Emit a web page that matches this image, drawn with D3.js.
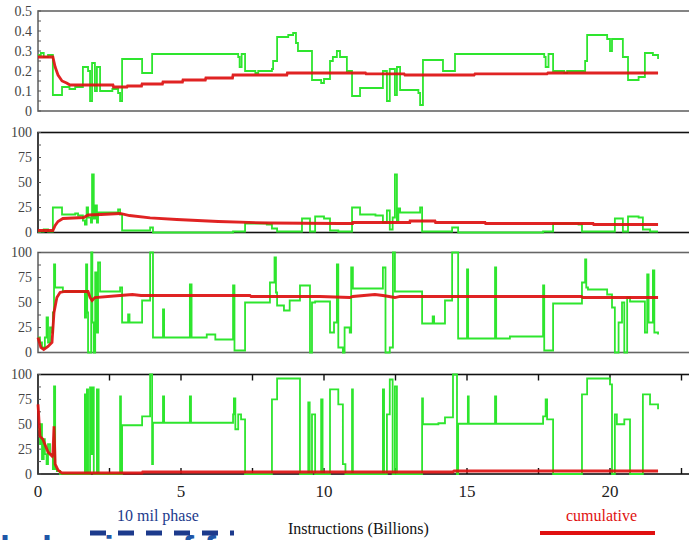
<!DOCTYPE html>
<html>
<head>
<meta charset="utf-8">
<style>
  body { margin: 0; background: #fff; }
  svg { display: block; }
</style>
</head>
<body>
<svg id="chart" width="689" height="540"></svg>
<script src="https://d3js.org/d3.v7.min.js"></script>
<script>
const WIDTH = 689;
const HEIGHT = 540;

// x ticks (billions of instructions)
const xTickLabels = [0, 5, 10, 15, 20];
const xMinorTicks = [2.5, 5, 7.5, 10, 12.5, 15, 17.5, 20, 22.5];
const ticksTop = [0, 0.1, 0.2, 0.3, 0.4, 0.5];
const ticksPct = [0, 25, 50, 75, 100];

// panel 1 : 10 mil phase (green) and cumulative (red)
const p1Phase = [[0,0.28],[0.1,0.29],[0.2,0.27],[0.35,0.28],[0.52,0.08],[0.84,0.12],[1.1,0.11],[1.3,0.12],[1.57,0.22],[1.75,0.2],[1.82,0.05],[1.89,0.24],[1.99,0.1],[2.06,0.22],[2.17,0.1],[2.6,0.11],[2.8,0.09],[2.87,0.05],[2.94,0.26],[3.64,0.19],[3.99,0.285],[7.0,0.27],[7.05,0.22],[7.12,0.285],[7.24,0.2],[7.6,0.19],[7.7,0.2],[8.18,0.21],[8.22,0.25],[8.36,0.37],[8.75,0.38],[8.92,0.39],[9.02,0.34],[9.09,0.3],[9.58,0.155],[9.9,0.14],[10.0,0.16],[10.21,0.25],[10.31,0.27],[10.45,0.3],[10.56,0.27],[10.8,0.2],[10.98,0.075],[11.26,0.115],[12.06,0.2],[12.2,0.05],[12.3,0.21],[12.48,0.08],[12.55,0.22],[12.66,0.105],[13.3,0.09],[13.36,0.03],[13.46,0.255],[14.16,0.2],[14.58,0.285],[17.7,0.27],[17.75,0.22],[17.85,0.285],[18.01,0.2],[18.4,0.19],[18.5,0.2],[19.13,0.25],[19.2,0.38],[19.9,0.36],[20.0,0.3],[20.07,0.36],[20.45,0.27],[20.63,0.155],[21.0,0.17],[21.22,0.29],[21.5,0.28],[21.68,0.26]];
const p1Cum = [[0,0.27],[0.52,0.27],[0.6,0.22],[0.7,0.18],[0.84,0.15],[1.0,0.14],[1.12,0.13],[2.62,0.13],[2.64,0.12],[3.11,0.12],[3.13,0.125],[3.62,0.125],[3.64,0.135],[4.35,0.135],[4.37,0.145],[5.05,0.145],[5.07,0.155],[5.85,0.155],[5.87,0.165],[6.8,0.165],[6.82,0.18],[8.7,0.18],[8.72,0.19],[11.45,0.19],[11.47,0.186],[12.8,0.186],[12.83,0.18],[15.25,0.18],[15.28,0.186],[17.8,0.186],[17.83,0.19],[21.68,0.19]];

// panel 2
const p2Phase = [[0,1],[0.2,3],[0.35,1],[0.52,25],[0.84,18],[1.3,19],[1.4,17],[1.57,12],[1.64,8],[1.7,25],[1.75,15],[1.85,10],[1.89,58],[1.95,14],[2.0,27],[2.06,10],[2.1,20],[2.8,23],[2.87,18],[2.94,2],[3.92,5],[4.02,0],[6.82,1],[7.24,9],[8.0,8],[8.18,4],[8.36,1],[9.23,14],[9.51,1],[9.69,16],[10.0,14],[10.21,2],[10.5,1],[10.98,25],[11.26,18],[11.8,17],[12.06,10],[12.2,22],[12.3,3],[12.4,15],[12.48,58],[12.55,12],[12.6,24],[12.66,20],[13.36,25],[13.43,1],[14.48,5],[14.69,0],[17.66,1],[18.01,9],[18.9,8],[19.02,1],[20.17,14],[20.45,1],[20.63,16],[21.0,15],[21.15,3],[21.4,1],[21.68,1]];
const p2Cum = [[0,2],[0.52,2],[0.6,7],[0.7,11],[0.87,14],[1.6,15],[1.75,17.5],[2.2,18],[2.87,19],[3.2,17],[3.92,14.7],[4.85,13],[6.3,11],[8.1,9.5],[10.56,9],[11.0,9],[11.01,10],[13.0,10],[13.01,11.5],[13.88,11.5],[13.9,10],[15.63,10],[15.65,9],[19.41,9],[19.43,8],[21.68,8]];

// panel 3
const p3Phase = [[0,15],[0.07,10],[0.14,5],[0.24,15],[0.3,35],[0.35,10],[0.42,25],[0.49,20],[0.52,40],[0.56,88],[0.6,65],[0.87,61],[1.64,35],[1.68,88],[1.72,40],[1.75,0],[1.86,100],[1.9,30],[1.95,0],[2.0,80],[2.06,20],[2.1,90],[2.17,61],[2.87,65],[2.94,30],[3.1,30],[3.15,38],[3.2,30],[3.64,52],[3.92,100],[4.02,15],[4.37,43],[4.41,15],[5.31,68],[5.37,15],[5.9,18],[6.2,13],[6.82,67],[6.87,2],[7.24,50],[8.11,70],[8.27,95],[8.32,60],[8.36,47],[8.6,42],[8.8,52],[9.16,67],[9.51,0],[9.58,50],[9.69,51],[10.21,20],[10.35,30],[10.45,88],[10.5,5],[10.66,0],[10.72,25],[10.9,20],[10.95,85],[11.01,64],[12.06,85],[12.15,0],[12.3,5],[12.41,100],[12.48,61],[13.43,29],[13.8,36],[13.85,29],[14.23,52],[14.48,100],[14.69,14],[15.0,83],[15.04,14],[15.98,85],[16.02,14],[16.5,16],[17.66,67],[17.7,2],[18.01,49],[19.02,70],[19.13,93],[19.17,65],[19.23,63],[19.9,58],[20.07,45],[20.17,0],[20.3,30],[20.42,50],[20.5,0],[20.6,55],[20.7,51],[21.22,20],[21.3,78],[21.35,30],[21.5,82],[21.55,20],[21.68,18]];
const p3Cum = [[0,15],[0.1,5],[0.2,3],[0.35,6],[0.49,10],[0.56,40],[0.66,55],[0.77,60],[0.94,61],[1.75,61],[1.82,55],[1.89,52],[1.99,55],[2.87,57],[3.3,58],[3.6,57],[7.41,57],[7.45,56],[9.86,56],[10.9,55],[11.01,56],[11.78,58],[12.06,57],[12.48,55],[12.66,56],[19.0,56],[19.05,55],[21.68,55]];

// panel 4
const p4Phase = [[0,45],[0.07,30],[0.1,50],[0.14,15],[0.2,35],[0.24,20],[0.3,10],[0.35,30],[0.42,20],[0.52,5],[0.56,88],[0.6,5],[0.66,3],[0.77,0],[1.64,80],[1.68,0],[1.71,85],[1.75,0],[1.82,87],[1.86,20],[1.9,87],[1.95,0],[2.06,85],[2.12,0],[2.87,78],[2.9,0],[2.94,49],[3.64,58],[3.92,100],[3.99,10],[4.02,51.5],[4.37,78],[4.41,51.5],[5.31,78],[5.35,51.5],[6.82,60],[6.85,76],[6.9,45],[7.0,60],[7.1,55],[7.24,0],[8.18,75],[8.36,96],[9.16,0],[9.45,72],[9.5,0],[9.58,60],[9.69,0],[9.9,75],[9.95,0],[10.21,85],[10.5,70],[10.66,10],[10.75,0],[10.98,85],[11.01,0],[12.06,85],[12.1,0],[12.2,60],[12.3,95],[12.4,0],[12.48,88],[12.55,0],[13.43,76],[13.46,50],[14.0,51],[14.23,57],[14.51,100],[14.65,0],[14.69,50.5],[15.03,78],[15.06,50.5],[15.98,78],[16.02,50.5],[17.66,58],[17.75,75],[17.8,55],[18.01,0],[19.02,80],[19.2,96],[20.0,90],[20.07,0],[20.17,60],[20.24,50],[20.5,55],[20.7,0],[21.15,80],[21.4,70],[21.68,65]];
const p4Cum = [[0,70],[0.07,38],[0.17,35],[0.35,22],[0.49,18],[0.52,20],[0.56,48],[0.6,10],[0.7,4],[0.84,1],[3.64,1],[3.66,2],[14.5,2],[14.55,3],[21.68,3]];

const svg = d3.select('#chart');

const x = d3.scaleLinear().domain([0, 25]).range([38, 38 + 25 * 28.6]);

const panels = [
    {phase: p1Phase, cum: p1Cum, max: 0.5, ticks: ticksTop, top: 11, bottom: 111, frame: '#666', fmt: d => d === 0 ? '0' : d3.format('.1f')(d)},
    {phase: p2Phase, cum: p2Cum, max: 100, ticks: ticksPct, top: 132.5, bottom: 232.5, frame: '#111', fmt: d => d},
    {phase: p3Phase, cum: p3Cum, max: 100, ticks: ticksPct, top: 252.5, bottom: 352.5, frame: '#666', fmt: d => d},
    {phase: p4Phase, cum: p4Cum, max: 100, ticks: ticksPct, top: 374.5, bottom: 474, frame: '#111', fmt: d => d}
];

panels.forEach(function(p, i) {
    let y = d3.scaleLinear().domain([0, p.max]).range([p.bottom, p.top]);
    let g = svg.append('g');

    // frame
    g.append('rect')
        .attr('x', x(0))
        .attr('y', p.top)
        .attr('width', x(25) - x(0))
        .attr('height', p.bottom - p.top)
        .attr('fill', 'none')
        .attr('stroke', p.frame)
        .attr('stroke-width', 1.6);

    // small inner ticks on the left edge
    let step = p.ticks[1] - p.ticks[0];
    let minor = d3.range(0, p.max + step / 4, step / 2);
    g.selectAll('.ytick').data(minor).join('line')
        .attr('x1', x(0)).attr('x2', x(0) + 3)
        .attr('y1', d => y(d)).attr('y2', d => y(d))
        .attr('stroke', '#555').attr('stroke-width', 1);

    // y tick labels
    g.selectAll('.ylab').data(p.ticks).join('text')
        .attr('x', 32)
        .attr('y', d => y(d))
        .attr('dy', '0.35em')
        .attr('text-anchor', 'end')
        .style('font-family', '"Liberation Serif", serif')
        .style('font-size', '14px')
        .style('fill', '#444')
        .text(p.fmt);

    // bottom panel gets the vertical ticks
    if (i === 3) {
        g.selectAll('.xt1').data(xMinorTicks).join('line')
            .attr('x1', d => x(d)).attr('x2', d => x(d))
            .attr('y1', p.top).attr('y2', p.top + 6)
            .attr('stroke', '#111').attr('stroke-width', 1.4);
        g.selectAll('.xt2').data(xMinorTicks).join('line')
            .attr('x1', d => x(d)).attr('x2', d => x(d))
            .attr('y1', p.bottom).attr('y2', p.bottom - 6)
            .attr('stroke', '#111').attr('stroke-width', 1.4);
    }

    let greenLine = d3.line()
        .x(d => x(d[0]))
        .y(d => y(d[1]))
        .curve(d3.curveStepAfter);
    let redLine = d3.line()
        .x(d => x(d[0]))
        .y(d => y(d[1]));

    g.append('path')
        .datum(p.phase)
        .attr('d', greenLine)
        .attr('fill', 'none')
        .attr('stroke', '#2ee52e')
        .attr('stroke-width', 1.8);

    g.append('path')
        .datum(p.cum)
        .attr('d', redLine)
        .attr('fill', 'none')
        .attr('stroke', '#dd1010')
        .attr('stroke-opacity', 0.92)
        .attr('stroke-width', 2.8);
});

// x tick labels
svg.selectAll('.xlab').data(xTickLabels).join('text')
    .attr('x', d => x(d))
    .attr('y', 497)
    .attr('text-anchor', 'middle')
    .style('font-family', '"Liberation Serif", serif')
    .style('font-size', '17px')
    .style('fill', '#222')
    .text(d => d);

// clipped slide title under the chart (drawn first, behind the legend)
svg.append('text')
    .attr('x', 0).attr('y', 562)
    .style('font-family', '"Liberation Sans", sans-serif')
    .style('font-weight', 'bold')
    .style('font-size', '36px')
    .style('fill', '#1f56a8')
    .text('behavior of fu');

// axis title
svg.append('text')
    .attr('x', 288).attr('y', 534)
    .style('font-family', '"Liberation Serif", serif')
    .style('font-size', '16px')
    .style('fill', '#111')
    .text('Instructions (Billions)');

// legend: 10 mil phase
svg.append('text')
    .attr('x', 117).attr('y', 521)
    .style('font-family', '"Liberation Serif", serif')
    .style('font-size', '16px')
    .style('fill', '#1c3a8c')
    .text('10 mil phase');
svg.append('line')
    .attr('x1', 90).attr('x2', 234)
    .attr('y1', 533).attr('y2', 533)
    .attr('stroke', '#1c3a8c')
    .attr('stroke-width', 5)
    .attr('stroke-dasharray', '16,12');

// legend: cumulative
svg.append('text')
    .attr('x', 566).attr('y', 521)
    .style('font-family', '"Liberation Serif", serif')
    .style('font-size', '16px')
    .style('fill', '#e01010')
    .text('cumulative');
svg.append('line')
    .attr('x1', 540).attr('x2', 655)
    .attr('y1', 533).attr('y2', 533)
    .attr('stroke', '#e01010')
    .attr('stroke-width', 4);
</script>
</body>
</html>
